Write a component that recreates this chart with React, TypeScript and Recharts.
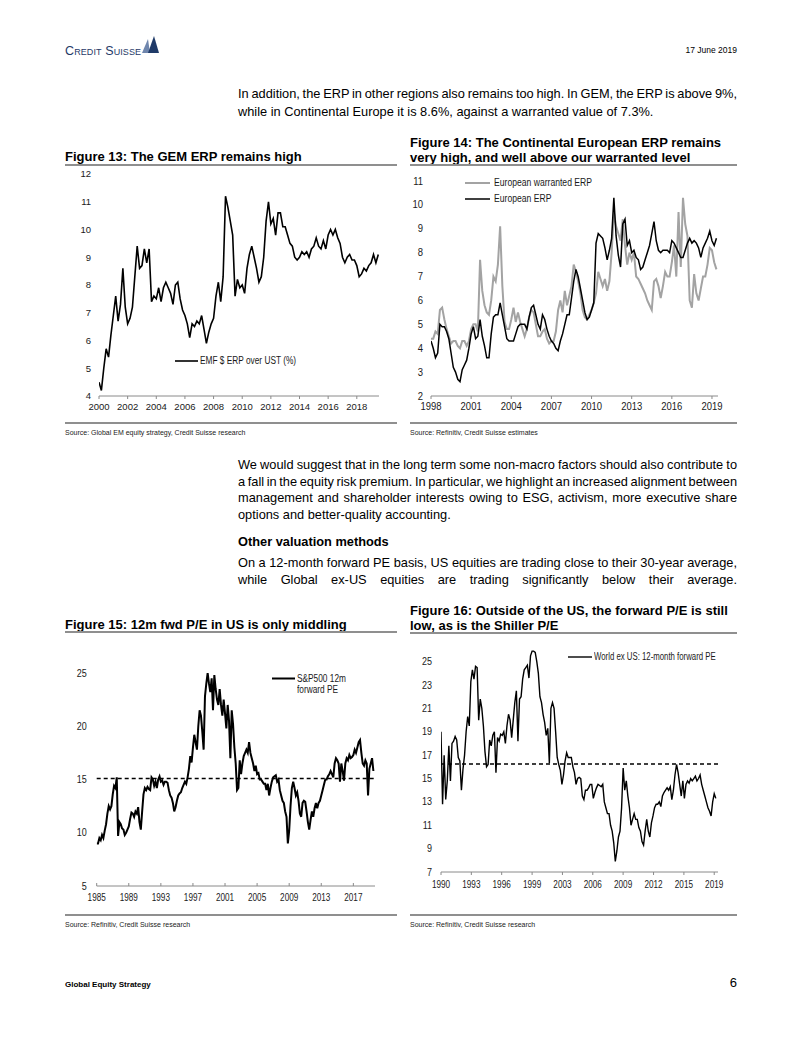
import React from "react";
import { LineChart, Line, XAxis, YAxis, ReferenceLine, Legend } from "recharts";

const ARIAL = "'Liberation Sans', Arial, Helvetica, sans-serif";
const STEP = 1 / 6; // two-monthly readings

// Figure 13: GEM ERP (EMF $ ERP over UST, %)
const gemStart = 2000;
const gemErp = [
  4.5, 4.2, 5.0, 5.7, 5.4, 6.2,
  6.9, 7.6, 6.7, 7.3, 8.6, 7.2,
  6.6, 6.8, 7.2, 8.3, 9.4, 8.6,
  8.7, 9.3, 8.8, 9.3, 7.4, 7.6,
  7.5, 7.9, 7.4, 7.9, 8.1, 7.9,
  7.7, 7.3, 8.0, 8.1, 7.5, 7.1,
  6.9, 6.6, 6.1, 6.6, 6.5, 6.7,
  6.6, 6.9, 6.4, 5.9, 6.3, 6.6,
  6.8, 7.6, 8.1, 7.4, 8.3, 11.2,
  10.8, 10.3, 9.8, 7.6, 8.2, 7.9,
  8.0, 7.7, 8.6, 9.1, 9.4, 9.0,
  8.6, 8.1, 8.3, 9.0, 10.3, 11.0,
  10.2, 10.4, 9.8, 10.6, 10.6, 10.1,
  10.1, 9.8, 9.5, 9.4, 9.0, 8.9,
  9.0, 9.2, 9.1, 9.2, 9.0, 9.3,
  9.4, 9.7, 9.4, 9.3, 9.6, 9.3,
  9.8, 10.0, 9.8, 10.0, 9.7, 9.5,
  9.0, 8.8, 9.0, 9.1, 8.9, 8.9,
  8.7, 8.3, 8.4, 8.6, 8.5, 8.7,
  8.8, 9.1, 8.8, 9.1,
];
const gemTicksX = [2000, 2002, 2004, 2006, 2008, 2010, 2012, 2014, 2016, 2018];
const gemTicksY = [4, 5, 6, 7, 8, 9, 10, 11, 12];

// Figure 14: Continental European ERP vs warranted
const euStart = 1998;
const euWarranted = [
  4.4, 4.4, 4.7, 4.6, 5.6, 5.7,
  5.2, 4.8, 4.5, 4.2, 4.3, 4.3,
  4.1, 4.0, 4.3, 4.3, 4.1, 4.3,
  4.8, 5.0, 5.0, 4.7, 7.7, 6.4,
  5.8, 5.5, 5.4, 6.0, 7.0, 6.8,
  7.5, 9.1, 6.6, 5.1, 4.8, 4.8,
  5.2, 5.7, 5.1, 5.5, 5.1, 4.8,
  4.5, 4.8, 5.3, 5.6, 5.5, 5.0,
  4.5, 4.5, 4.7, 4.8, 4.4, 4.2,
  4.3, 4.3, 4.7, 5.6, 6.0, 5.5,
  6.4, 5.8, 6.2, 6.6, 7.5, 7.2,
  6.8, 6.3, 5.6, 5.3, 5.2, 5.4,
  5.6, 5.9, 6.3, 7.2, 6.9, 6.6,
  6.9, 6.4, 6.8, 8.0, 9.7, 9.1,
  8.8, 8.5, 9.4, 8.3, 7.5, 8.0,
  7.7, 8.0, 7.0, 6.9, 6.7, 6.5,
  6.3, 6.0, 5.8, 5.6, 6.8, 6.9,
  6.6, 6.1, 6.6, 7.2, 7.0, 7.0,
  7.6, 8.3, 7.0, 9.7, 7.4, 10.3,
  9.2, 8.7, 6.0, 5.7, 7.1, 6.3,
  6.0, 6.5, 7.0, 7.0, 7.5, 8.2,
  8.1, 7.6, 7.3,
];
const euErp = [
  4.3, 4.0, 3.6, 3.8, 5.0, 4.9,
  4.9, 4.7, 4.4, 3.8, 3.2, 3.0,
  2.7, 2.6, 3.1, 3.3, 3.5, 4.0,
  4.6, 4.9, 4.4, 4.5, 5.2, 4.5,
  4.1, 3.6, 3.6, 4.6, 5.3, 5.4,
  5.4, 5.9, 5.4, 4.9, 4.4, 4.3,
  4.3, 4.3, 4.6, 4.9, 5.0, 5.0,
  5.0, 4.8, 5.3, 5.7, 5.8, 5.4,
  5.0, 4.8, 5.4, 5.2, 4.8, 4.5,
  4.3, 4.2, 4.0, 3.9, 4.3, 4.6,
  5.0, 5.4, 5.4, 6.1, 6.8, 7.3,
  7.0, 6.5, 6.0, 5.5, 5.2, 5.3,
  5.6, 5.9, 8.4, 8.8, 8.7, 8.6,
  8.2, 7.7, 8.1, 8.6, 10.3, 8.7,
  7.9, 7.4, 9.2, 9.4, 8.3, 8.5,
  8.0, 8.1, 7.8, 7.7, 7.3, 7.4,
  7.7, 8.0, 8.3, 8.8, 9.3, 8.5,
  8.1, 8.0, 8.1, 8.1, 8.1, 8.0,
  8.5, 8.4, 8.2, 8.0, 7.8, 7.8,
  8.1, 8.4, 8.6, 8.4, 8.5, 8.4,
  8.2, 7.8, 8.2, 8.4, 8.6, 8.9,
  8.5, 8.3, 8.6,
];
const euTicksX = [1998, 2001, 2004, 2007, 2010, 2013, 2016, 2019];
const euTicksY = [2, 3, 4, 5, 6, 7, 8, 9, 10, 11];
const euLegendOrder = ["European warranted ERP", "European ERP"];

// Figure 15: S&P500 12m forward PE
const usStart = 1985;
const usFwdPe = [
  9.0, 9.0, 9.5, 9.3, 9.8, 9.5,
  10.2, 10.8, 11.8, 12.5, 12.2, 12.5,
  13.6, 14.4, 14.2, 15.2, 9.7, 11.0,
  10.8, 10.4, 10.3, 9.8, 10.0, 10.3,
  10.6, 11.3, 11.9, 11.8, 11.5, 12.0,
  11.8, 12.4, 11.0, 10.3, 12.0, 13.6,
  14.2, 14.0, 14.3, 14.1, 14.0, 15.2,
  15.0, 14.4, 14.8, 14.2, 15.0, 15.3,
  14.8, 14.9, 14.5, 14.8, 14.8, 14.7,
  14.0, 13.5, 13.3, 12.8, 12.0, 12.4,
  13.0, 13.5, 13.7, 13.8, 14.2, 14.5,
  14.8, 14.6, 15.2, 16.0, 17.2, 16.6,
  18.0, 19.2, 18.5, 17.8, 20.0, 21.5,
  21.0, 19.5, 17.8, 22.8, 24.0, 25.0,
  24.0, 23.2, 24.5, 21.5, 24.8, 23.5,
  22.5, 22.0, 23.5, 22.0, 21.0, 22.5,
  21.2, 19.8, 22.0, 20.5, 17.0, 21.5,
  20.2, 18.0, 16.5, 14.0, 14.2, 16.8,
  15.5, 16.5, 17.2, 17.5, 17.8, 17.5,
  18.5, 17.5, 17.0, 16.5, 15.8, 16.3,
  15.5, 15.6, 15.0, 15.0, 14.8, 14.6,
  14.6, 14.0, 14.6, 13.5, 14.2, 14.8,
  15.2, 15.3, 15.4, 14.8, 15.0, 14.0,
  13.5, 13.0, 12.8, 12.0, 11.5, 9.0,
  10.2, 12.5, 14.2, 14.8, 14.2, 13.5,
  13.8, 13.0, 11.8, 11.5, 12.8, 13.0,
  12.9, 12.0, 11.0, 10.3, 11.2, 12.0,
  11.5, 12.3, 12.8, 12.3, 12.8, 13.0,
  13.5, 14.0, 14.5, 15.0, 15.0, 15.3,
  15.5, 15.8, 15.5, 15.2, 16.5, 17.0,
  16.8, 16.5, 14.8, 16.5, 15.8, 14.9,
  16.5, 17.0, 16.8, 17.3, 17.0, 17.1,
  17.3, 17.8, 17.5, 18.0, 18.5, 18.7,
  17.5, 16.5, 16.3, 16.8, 16.5, 13.5,
  16.0, 16.5, 17.0, 15.8,
];
const usAvgPe = 15.1;
const usTicksX = [1985, 1989, 1993, 1997, 2001, 2005, 2009, 2013, 2017];
const usTicksY = [5, 10, 15, 20, 25];

// Figure 16: World ex US 12-month forward PE
const wxStart = 1990;
const wxFwdPe = [
  19.0, 12.8, 17.0, 13.2, 14.8, 17.8,
  14.8, 18.0, 18.2, 18.6, 18.3, 16.8,
  16.5, 14.0, 15.8, 17.0, 19.0, 20.3,
  19.5, 23.3, 24.3, 23.5, 24.6, 24.5,
  20.0, 21.8, 21.0, 19.5, 17.3, 16.0,
  16.2, 18.3, 17.8, 18.7, 19.0, 15.5,
  18.5, 18.2, 18.8, 18.7, 19.0, 18.0,
  19.5, 20.5, 20.0, 18.5, 20.0, 21.5,
  22.5, 18.2, 21.8, 22.0, 23.5, 24.3,
  24.5, 24.7, 23.6, 25.5, 25.9, 25.9,
  25.8, 25.0, 24.0, 22.0, 21.5, 20.5,
  19.8, 18.7, 19.3, 16.3, 21.0, 21.5,
  21.0, 19.0, 16.8, 16.2, 15.7, 14.5,
  15.3, 16.5, 17.2, 16.8, 16.8, 16.8,
  16.0, 15.5, 14.5, 15.0, 15.1, 15.0,
  13.5, 13.2, 14.0, 14.0, 14.2, 14.5,
  14.5, 13.3, 13.8, 14.2, 14.5, 14.4,
  14.3, 14.5, 13.0, 12.5, 12.0, 12.0,
  11.0, 10.5, 9.5, 7.9, 8.8, 10.0,
  10.5, 12.5, 15.9, 14.0, 14.8, 13.5,
  12.5, 11.0, 11.5, 12.0, 11.5, 11.5,
  10.8, 10.5, 9.6, 9.3, 10.5, 11.5,
  10.5, 10.0, 11.2, 11.8, 12.5, 12.8,
  12.8, 13.0, 12.6, 13.5, 13.8, 14.0,
  14.2, 14.0, 14.3, 13.2, 14.0, 15.3,
  16.2, 15.5, 14.5, 13.5, 14.8, 13.3,
  14.5, 14.8, 14.6, 15.0, 14.8, 15.0,
  15.2, 14.8, 15.0, 15.3, 14.5, 14.0,
  13.5, 13.0, 12.5, 12.2, 11.8, 13.0,
  13.7, 13.3,
];
const wxAvgPe = 16.25;
const wxTicksX = [1990, 1993.22, 1996.44, 1999.67, 2002.89, 2006.11, 2009.33, 2012.56, 2015.78, 2019];
const wxTickLabels = ["1990", "1993", "1996", "1999", "2003", "2006", "2009", "2012", "2015", "2019"];
const wxTicksY = [7, 9, 11, 13, 15, 17, 19, 21, 23, 25];

const toRows = (start: number, vals: number[]) => vals.map((v, i) => ({ t: start + i * STEP, v }));
const gemRows = toRows(gemStart, gemErp);
const euRows = euErp.map((v, i) => ({ t: euStart + i * STEP, erp: v, warranted: euWarranted[i] }));
const usRows = toRows(usStart, usFwdPe);
const wxRows = toRows(wxStart, wxFwdPe);

// x tick: short tick mark + (optionally condensed) label
type XTickOpts = { dir: number; len: number; base: number; size: number; sx: number; ticks?: number[]; labels?: string[] };
const makeXTick = (o: XTickOpts) => (props: any) => {
  const { x, y, payload } = props;
  let label = String(payload.value);
  if (o.ticks && o.labels) {
    const i = o.ticks.indexOf(payload.value);
    if (i >= 0) label = o.labels[i];
  }
  return (
    <g>
      <line x1={x} x2={x} y1={y} y2={y + o.dir * o.len} stroke="#8a8a8a" strokeWidth={1} />
      <text
        transform={`translate(${x} ${y + o.base}) scale(${o.sx} 1)`}
        textAnchor="middle"
        fontSize={o.size}
        fontFamily={ARIAL}
        fill="#1a1a1a"
      >
        {label}
      </text>
    </g>
  );
};

const makeYTick = (size: number, sx: number) => (props: any) => {
  const { x, y, payload } = props;
  return (
    <text
      transform={`translate(${x} ${y + size * 0.36}) scale(${sx} 1)`}
      textAnchor="end"
      fontSize={size}
      fontFamily={ARIAL}
      fill="#1a1a1a"
    >
      {payload.value}
    </text>
  );
};

type LegendOpts = { lineLen: number; fontSize: number; rowH: number; gap: number; sx: number; breakAt?: string; order?: string[] };
const makeLegend = (o: LegendOpts) => (props: any) => {
  let items = [...(props.payload || [])];
  if (o.order) items.sort((a: any, b: any) => o.order!.indexOf(a.value) - o.order!.indexOf(b.value));
  return (
    <div style={{ fontFamily: ARIAL, fontSize: o.fontSize, color: "#1a1a1a", lineHeight: `${o.rowH}px` }}>
      {items.map((it: any) => {
        const name = String(it.value);
        const k = o.breakAt ? name.indexOf(o.breakAt) : -1;
        const lines = k > 0 ? [name.slice(0, k).trim(), name.slice(k).trim()] : [name];
        return (
          <div key={name} style={{ display: "flex", alignItems: "flex-start" }}>
            <svg width={o.lineLen} height={o.rowH} style={{ flex: "none" }}>
              <line x1={0} x2={o.lineLen} y1={o.rowH / 2} y2={o.rowH / 2} stroke={it.color} strokeWidth={it.payload?.strokeWidth ?? 1.5} />
            </svg>
            <div style={{ marginLeft: o.gap, transform: `scaleX(${o.sx})`, transformOrigin: "left center", whiteSpace: "nowrap" }}>
              {lines.map((l) => (
                <div key={l}>{l}</div>
              ))}
            </div>
          </div>
        );
      })}
    </div>
  );
};

// one line of page text; fit = width the line is justified to (word spacing)
type TxtProps = { x: number; y: number; size: number; bold?: boolean; fit?: number; anchor?: "start" | "end"; color?: string; children: string };
const Txt = ({ x, y, size, bold, fit, anchor, color, children }: TxtProps) => {
  const ref = React.useRef<SVGTextElement>(null);
  const [ws, setWs] = React.useState(0);
  React.useLayoutEffect(() => {
    if (!fit || !ref.current) return;
    const len = ref.current.getComputedTextLength();
    const spaces = (children.match(/ /g) || []).length;
    if (spaces) setWs((fit - len) / spaces);
  }, [fit, children]);
  return (
    <svg style={{ position: "absolute", left: 0, top: 0, overflow: "visible" }} width={1} height={1}>
      <text
        ref={ref}
        x={x}
        y={y + size * 0.36}
        fontSize={size}
        fontFamily={ARIAL}
        fontWeight={bold ? 700 : 400}
        fill={color ?? "#000"}
        textAnchor={anchor ?? "start"}
        style={{ wordSpacing: ws }}
      >
        {children}
      </text>
    </svg>
  );
};

const Rule = ({ x, y, w, h = 2 }: { x: number; y: number; w: number; h?: number }) => (
  <div style={{ position: "absolute", left: x, top: y - h / 2, width: w, height: h, background: "#8f8f8f" }} />
);

const Box = ({ x, y, children }: { x: number; y: number; children: React.ReactNode }) => (
  <div style={{ position: "absolute", left: x, top: y }}>{children}</div>
);

const BODY = 12.8;
const COL = 499;

export default function App() {
  return (
    <div style={{ position: "absolute", left: 0, top: 0, width: 802, height: 1037, background: "#fff", fontFamily: ARIAL, overflow: "hidden" }}>
      {/* header */}
      <div style={{ position: "absolute", left: 65, top: 44, fontSize: 12.5, fontVariant: "small-caps", color: "#1f3a68", lineHeight: "14px", letterSpacing: 0.1 }}>
        Credit Suisse
      </div>
      <svg style={{ position: "absolute", left: 139, top: 36 }} width={22} height={20}>
        <path d="M3 17 L9 3 L11 17 Z" fill="#6f86ad" />
        <path d="M9 17 L15 0 L20 17 Z" fill="#1f3a68" />
      </svg>
      <Txt x={737} y={50} size={8.5} anchor="end">17 June 2019</Txt>

      <Txt x={238} y={93} size={BODY} fit={COL}>In addition, the ERP in other regions also remains too high. In GEM, the ERP is above 9%,</Txt>
      <Txt x={238} y={111} size={BODY}>while in Continental Europe it is 8.6%, against a warranted value of 7.3%.</Txt>

      {/* Figure 13 */}
      <Txt x={65} y={156} size={13} bold>Figure 13: The GEM ERP remains high</Txt>
      <Rule x={65} y={164.5} w={332} />
      <Box x={65} y={168}>
        <LineChart width={335} height={248} data={gemRows} margin={{ top: 6, right: 21, left: 0, bottom: 0 }}>
          <XAxis
            type="number"
            dataKey="t"
            domain={[2000, 2019.55]}
            ticks={gemTicksX}
            interval={0}
            height={20}
            tickSize={0}
            tickMargin={0}
            tickLine={false}
            axisLine={{ stroke: "#8a8a8a" }}
            tick={makeXTick({ dir: 1, len: 3, base: 14, size: 9.5, sx: 1 })}
            allowDataOverflow
          />
          <YAxis
            type="number"
            domain={[4, 12]}
            ticks={gemTicksY}
            interval={0}
            width={34}
            tickSize={5}
            tickMargin={3}
            axisLine={false}
            tickLine={false}
            tick={makeYTick(9.5, 1)}
          />
          <Legend
            layout="vertical"
            align="center"
            verticalAlign="middle"
            wrapperStyle={{ left: 110, top: 187, width: "auto" }}
            content={makeLegend({ lineLen: 23, fontSize: 10, rowH: 12, gap: 2, sx: 0.83 })}
          />
          <Line type="linear" dataKey="v" name="EMF $ ERP over UST (%)" stroke="#000" strokeWidth={1.6} dot={false} isAnimationActive={false} />
        </LineChart>
      </Box>
      <Rule x={65} y={423} w={332} />
      <Txt x={65} y={432.5} size={7} color="#222">Source: Global EM equity strategy, Credit Suisse research</Txt>

      {/* Figure 14 */}
      <Txt x={410} y={142} size={13} bold>Figure 14: The Continental European ERP remains</Txt>
      <Txt x={410} y={157} size={13} bold>very high, and well above our warranted level</Txt>
      <Rule x={410} y={165} w={327} />
      <Box x={400} y={175}>
        <LineChart width={340} height={243} data={euRows} margin={{ top: 6, right: 22, left: 0, bottom: 0 }}>
          <XAxis
            type="number"
            dataKey="t"
            domain={[1998, 2019.45]}
            ticks={euTicksX}
            interval={0}
            height={22}
            tickSize={0}
            tickMargin={0}
            tickLine={false}
            axisLine={{ stroke: "#8a8a8a" }}
            tick={makeXTick({ dir: 1, len: 3, base: 14.3, size: 10, sx: 0.95 })}
            allowDataOverflow
          />
          <YAxis
            type="number"
            domain={[2, 11]}
            ticks={euTicksY}
            interval={0}
            width={31}
            tickSize={6}
            tickMargin={2}
            axisLine={false}
            tickLine={false}
            tick={makeYTick(10, 0.95)}
          />
          <Legend
            layout="vertical"
            align="center"
            verticalAlign="middle"
            wrapperStyle={{ left: 65, top: 0, width: "auto" }}
            content={makeLegend({ lineLen: 25, fontSize: 10, rowH: 16, gap: 4, sx: 0.86, order: euLegendOrder })}
          />
          <Line type="linear" dataKey="warranted" name="European warranted ERP" stroke="#a3a3a3" strokeWidth={2} dot={false} isAnimationActive={false} />
          <Line type="linear" dataKey="erp" name="European ERP" stroke="#000" strokeWidth={1.5} dot={false} isAnimationActive={false} />
        </LineChart>
      </Box>
      <Rule x={410} y={423} w={327} />
      <Txt x={410} y={432.5} size={7} color="#222">Source: Refinitiv, Credit Suisse estimates</Txt>

      {/* body text */}
      <Txt x={238} y={464} size={BODY} fit={COL}>We would suggest that in the long term some non-macro factors should also contribute to</Txt>
      <Txt x={238} y={481} size={BODY} fit={COL}>a fall in the equity risk premium. In particular, we highlight an increased alignment between</Txt>
      <Txt x={238} y={497.5} size={BODY} fit={COL}>management and shareholder interests owing to ESG, activism, more executive share</Txt>
      <Txt x={238} y={514} size={BODY}>options and better-quality accounting.</Txt>
      <Txt x={238} y={541} size={BODY} bold>Other valuation methods</Txt>
      <Txt x={238} y={562} size={BODY} fit={COL}>On a 12-month forward PE basis, US equities are trading close to their 30-year average,</Txt>
      <Txt x={238} y={579} size={BODY} fit={COL}>while Global ex-US equities are trading significantly below their average.</Txt>

      {/* Figure 15 */}
      <Txt x={65} y={624.5} size={13} bold>Figure 15: 12m fwd P/E in US is only middling</Txt>
      <Rule x={65} y={632} w={332} />
      <Box x={60} y={667}>
        <LineChart width={340} height={243} data={usRows} margin={{ top: 6, right: 25, left: 0, bottom: 0 }}>
          <XAxis
            type="number"
            dataKey="t"
            domain={[1985, 2019.7]}
            ticks={usTicksX}
            interval={0}
            height={24}
            tickSize={0}
            tickMargin={0}
            tickLine={false}
            axisLine={{ stroke: "#8a8a8a" }}
            tick={makeXTick({ dir: -1, len: 3, base: 15.3, size: 10, sx: 0.82 })}
            allowDataOverflow
          />
          <YAxis
            type="number"
            domain={[5, 25]}
            ticks={usTicksY}
            interval={0}
            width={36.7}
            tickSize={8}
            tickMargin={2}
            axisLine={false}
            tickLine={false}
            tick={makeYTick(10, 0.9)}
            allowDataOverflow
          />
          <ReferenceLine y={usAvgPe} stroke="#000" strokeWidth={1.5} strokeDasharray="4 3" />
          <Legend
            layout="vertical"
            align="center"
            verticalAlign="middle"
            wrapperStyle={{ left: 212, top: 5.5, width: "auto" }}
            content={makeLegend({ lineLen: 23, fontSize: 10, rowH: 11, gap: 2, sx: 0.83, breakAt: "forward" })}
          />
          <Line type="linear" dataKey="v" name="S&P500 12m forward PE" stroke="#000" strokeWidth={2} dot={false} isAnimationActive={false} />
        </LineChart>
      </Box>
      <Rule x={65} y={915} w={332} />
      <Txt x={65} y={924.5} size={7} color="#222">Source: Refinitiv, Credit Suisse research</Txt>

      {/* Figure 16 */}
      <Txt x={410} y={610} size={13} bold>Figure 16: Outside of the US, the forward P/E is still</Txt>
      <Txt x={410} y={625} size={13} bold>low, as is the Shiller P/E</Txt>
      <Rule x={410} y={632.5} w={327} />
      <Box x={400} y={644}>
        <LineChart width={340} height={250} data={wxRows} margin={{ top: 6, right: 22, left: 0, bottom: 0 }}>
          <XAxis
            type="number"
            dataKey="t"
            domain={[1990, 2019.4]}
            ticks={wxTicksX}
            interval={0}
            height={22}
            tickSize={0}
            tickMargin={0}
            tickLine={false}
            axisLine={{ stroke: "#8a8a8a" }}
            tick={makeXTick({ dir: 1, len: 3, base: 15.6, size: 10, sx: 0.82, ticks: wxTicksX, labels: wxTickLabels })}
            allowDataOverflow
          />
          <YAxis
            type="number"
            domain={[7, 26]}
            ticks={wxTicksY}
            interval={0}
            width={41}
            tickSize={7}
            tickMargin={2}
            axisLine={false}
            tickLine={false}
            tick={makeYTick(10, 0.9)}
          />
          <ReferenceLine y={wxAvgPe} stroke="#000" strokeWidth={1.5} strokeDasharray="4 3" />
          <Legend
            layout="vertical"
            align="center"
            verticalAlign="middle"
            wrapperStyle={{ left: 168, top: 7, width: "auto" }}
            content={makeLegend({ lineLen: 24, fontSize: 10, rowH: 12, gap: 2, sx: 0.78 })}
          />
          <Line type="linear" dataKey="v" name="World ex US: 12-month forward PE" stroke="#000" strokeWidth={1.4} dot={false} isAnimationActive={false} />
        </LineChart>
      </Box>
      <Rule x={410} y={915} w={327} />
      <Txt x={410} y={924.5} size={7} color="#222">Source: Refinitiv, Credit Suisse research</Txt>

      {/* footer */}
      <Txt x={65} y={984} size={8} bold>Global Equity Strategy</Txt>
      <Txt x={737} y={982} size={13} anchor="end">6</Txt>
    </div>
  );
}
